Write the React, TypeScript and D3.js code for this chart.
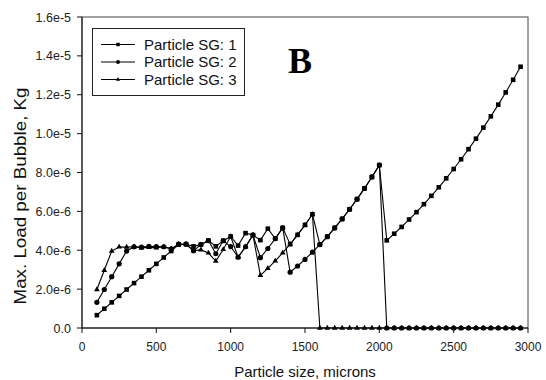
import React from 'react';
import * as d3 from 'd3';

const sizes = [100, 150, 200, 250, 300, 350, 400, 450, 500, 550, 600, 650, 700, 750, 800, 850, 900, 950, 1000, 1050, 1100, 1150, 1200, 1250, 1300, 1350, 1400, 1450, 1500, 1550, 1600, 1650, 1700, 1750, 1800, 1850, 1900, 1950, 2000, 2050, 2100, 2150, 2200, 2250, 2300, 2350, 2400, 2450, 2500, 2550, 2600, 2650, 2700, 2750, 2800, 2850, 2900, 2950];

// values in units of 1e-6 kg
const sg1 = [0.66, 0.99, 1.32, 1.65, 1.98, 2.31, 2.64, 2.97, 3.30, 3.63, 3.96, 4.29, 4.31, 4.20, 4.29, 4.50, 4.20, 4.49, 4.71, 4.24, 4.88, 4.78, 4.52, 5.11, 4.60, 5.15, 4.31, 4.79, 5.30, 5.85, 4.29, 4.70, 5.15, 5.61, 6.11, 6.63, 7.18, 7.77, 8.38, 4.51, 4.85, 5.20, 5.58, 5.96, 6.37, 6.80, 7.24, 7.70, 8.18, 8.68, 9.20, 9.74, 10.31, 10.89, 11.49, 12.12, 12.77, 13.44];
const sg2 = [1.32, 1.98, 2.64, 3.30, 3.96, 4.18, 4.16, 4.20, 4.19, 4.18, 4.07, 4.31, 4.31, 3.98, 4.29, 4.50, 3.82, 4.49, 4.19, 3.64, 4.18, 4.78, 3.62, 4.09, 4.60, 5.15, 2.87, 3.19, 3.53, 3.90, 4.29, 4.70, 5.15, 5.61, 6.11, 6.63, 7.18, 7.77, 8.38, 0, 0, 0, 0, 0, 0, 0, 0, 0, 0, 0, 0, 0, 0, 0, 0, 0, 0, 0];
const sg3 = [1.98, 2.97, 3.96, 4.17, 4.16, 4.18, 4.12, 4.15, 4.12, 4.18, 4.07, 4.31, 4.31, 3.98, 4.02, 3.86, 3.44, 4.04, 4.71, 3.64, 4.18, 4.78, 2.71, 3.07, 3.45, 3.87, 4.31, 4.79, 5.30, 5.85, 0, 0, 0, 0, 0, 0, 0, 0, 0, 0, 0, 0, 0, 0, 0, 0, 0, 0, 0, 0, 0, 0, 0, 0, 0, 0, 0, 0];
const UNIT = 1e-6;

const seriesNames = ['Particle SG: 1', 'Particle SG: 2', 'Particle SG: 3'];
const yTicks = [0, 2e-6, 4e-6, 6e-6, 8e-6, 1e-5, 1.2e-5, 1.4e-5, 1.6e-5];
const yTickLabels = ['0.0', '2.0e-6', '4.0e-6', '6.0e-6', '8.0e-6', '1.0e-5', '1.2e-5', '1.4e-5', '1.6e-5'];
const xTicks = [0, 500, 1000, 1500, 2000, 2500, 3000];
const xTitle = 'Particle size, microns';
const yTitle = 'Max. Load per Bubble, Kg';
const panelLabel = 'B';

const FONT = "'Liberation Sans', Arial, sans-serif";

function Marker({ shape, cx, cy, scale = 1 }: { shape: string; cx: number; cy: number; scale?: number }) {
  if (shape === 'square') {
    const s = 4.6 * scale;
    return <rect x={cx - s / 2} y={cy - s / 2} width={s} height={s} fill="#000" />;
  }
  if (shape === 'circle') {
    return <circle cx={cx} cy={cy} r={2.6 * scale} fill="#000" />;
  }
  const p = d3.symbol().type(d3.symbolTriangle).size(14 * scale * scale)();
  return <path d={p || ''} transform={`translate(${cx},${cy})`} fill="#000" />;
}

export default function App() {
  const W = 546, H = 380;
  const x = d3.scaleLinear().domain([0, 3000]).range([82, 528]);
  const y = d3.scaleLinear().domain([0, 1.6e-5]).range([328, 17]);
  const line = d3.line<[number, number]>().x(d => x(d[0])).y(d => y(d[1]));

  const series = [
    { name: seriesNames[0], values: sg1, shape: 'square' },
    { name: seriesNames[1], values: sg2, shape: 'circle' },
    { name: seriesNames[2], values: sg3, shape: 'triangle' },
  ];
  const drawOrder = [2, 1, 0];

  const legendRows = [44.5, 62, 79.5];

  return (
    <svg width={W} height={H} style={{ position: 'absolute', left: 0, top: 0, background: '#fff' }} fontFamily={FONT}>
      <rect x={0} y={0} width={W} height={H} fill="#fff" />
      {/* frame */}
      <rect x={82} y={17} width={446} height={311} fill="none" stroke="#444" strokeWidth={1} />
      {/* series */}
      {drawOrder.map(i => {
        const s = series[i];
        const pts: [number, number][] = sizes.map((d, k) => [d, s.values[k] * UNIT]);
        return (
          <g key={s.name}>
            <path d={line(pts) || ''} fill="none" stroke="#000" strokeWidth={1.1} />
            {pts.map((p, k) => (
              <Marker key={k} shape={s.shape} cx={x(p[0])} cy={y(p[1])} />
            ))}
          </g>
        );
      })}
      {/* axes */}
      <line x1={82} y1={17} x2={82} y2={328} stroke="#111" />
      <line x1={82} y1={328} x2={528} y2={328} stroke="#111" />
      {yTicks.map((t, i) => (
        <g key={'y' + i}>
          <line x1={77} x2={82} y1={y(t)} y2={y(t)} stroke="#111" />
          <text x={71} y={y(t) + 4.5} textAnchor="end" fontSize={12.5} fill="#222">{yTickLabels[i]}</text>
        </g>
      ))}
      {xTicks.map((t, i) => (
        <g key={'x' + i}>
          <line x1={x(t)} x2={x(t)} y1={328} y2={333} stroke="#111" />
          <text x={x(t)} y={351} textAnchor="middle" fontSize={12} fill="#222">{t}</text>
        </g>
      ))}
      <text x={305} y={377} textAnchor="middle" fontSize={15} fill="#111">{xTitle}</text>
      <text transform="translate(25.5,196) rotate(-90)" textAnchor="middle" fontSize={16} fill="#111"
        textLength={217} lengthAdjust="spacingAndGlyphs">{yTitle}</text>
      {/* legend */}
      <rect x={92.5} y={28.5} width={152} height={67} fill="#fff" stroke="#222" strokeWidth={1} />
      {series.map((s, i) => (
        <g key={'lg' + i}>
          <line x1={101} x2={135} y1={legendRows[i]} y2={legendRows[i]} stroke="#000" strokeWidth={1.1} />
          <Marker shape={s.shape} cx={118} cy={legendRows[i]} scale={0.75} />
          <text x={144} y={legendRows[i] + 5.3} fontSize={15} fill="#111">{s.name}</text>
        </g>
      ))}
      <text x={288} y={73} fontSize={36} fontWeight="bold" fontFamily="'Liberation Serif', 'Times New Roman', serif" fill="#000">{panelLabel}</text>
    </svg>
  );
}
